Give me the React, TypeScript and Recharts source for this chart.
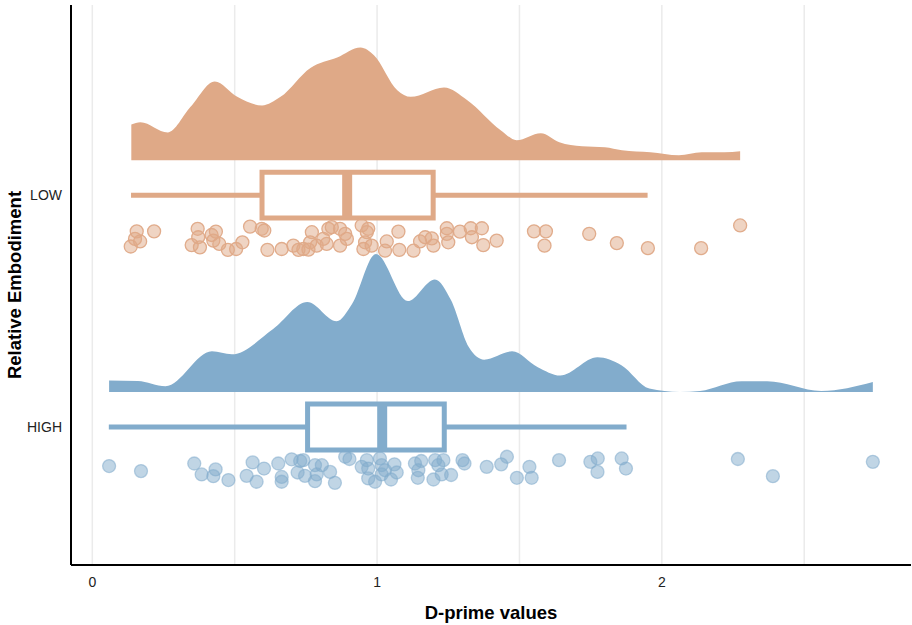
import { ComposedChart, CartesianGrid, XAxis, YAxis, Area, Scatter, ReferenceLine, ReferenceArea, Label } from 'recharts'

// group order on the y axis (bottom to top)
const categories = ['HIGH', 'LOW']

// individual d-prime scores and their vertical jitter (0..1 inside the rain band)
const lowScores = [
  0.135, 0.15, 0.156, 0.168, 0.217, 0.349, 0.37, 0.372, 0.378, 0.419, 0.434, 0.425, 0.446, 0.476, 0.505, 0.527,
  0.554, 0.595, 0.604, 0.615, 0.665, 0.706, 0.724, 0.741, 0.759, 0.771, 0.765, 0.788, 0.811, 0.829, 0.841, 0.823,
  0.87, 0.888, 0.87, 0.894, 0.946, 0.969, 0.964, 0.958, 0.952, 0.981, 1.034, 1.028, 1.075, 1.078, 1.128, 1.151,
  1.169, 1.192, 1.198, 1.245, 1.245, 1.25, 1.291, 1.329, 1.333, 1.368, 1.373, 1.42, 1.551, 1.593, 1.588, 1.745,
  1.842, 1.951, 2.138, 2.275
]
const lowJitter = [
  0.83, 0.56, 0.29, 0.65, 0.29, 0.78, 0.2, 0.5, 0.86, 0.42, 0.3, 0.62, 0.74, 0.95, 0.92, 0.68,
  0.12, 0.2, 0.26, 0.95, 0.92, 0.8, 0.95, 0.92, 0.94, 0.32, 0.68, 0.8, 0.56, 0.2, 0.14, 0.74,
  0.2, 0.38, 0.8, 0.56, 0.08, 0.2, 0.32, 0.68, 0.92, 0.8, 0.65, 0.98, 0.3, 0.95, 0.98, 0.65,
  0.5, 0.54, 0.8, 0.18, 0.38, 0.68, 0.3, 0.18, 0.5, 0.18, 0.78, 0.62, 0.29, 0.29, 0.8, 0.38,
  0.71, 0.89, 0.89, 0.08
]
const highScores = [
  0.059, 0.171, 0.358, 0.384, 0.433, 0.425, 0.478, 0.563, 0.542, 0.603, 0.577, 0.653, 0.665, 0.665, 0.7, 0.73,
  0.741, 0.721, 0.747, 0.782, 0.788, 0.782, 0.806, 0.835, 0.852, 0.888, 0.903, 0.946, 0.964, 0.969, 0.969, 0.993,
  1.01, 1.016, 1.028, 1.016, 1.049, 1.061, 1.069, 1.133, 1.155, 1.145, 1.143, 1.198, 1.204, 1.233, 1.215, 1.227,
  1.26, 1.3, 1.307, 1.385, 1.436, 1.456, 1.491, 1.535, 1.543, 1.639, 1.749, 1.775, 1.774, 1.859, 1.874, 2.267,
  2.39, 2.741
]
const highJitter = [
  0.39, 0.57, 0.3, 0.69, 0.51, 0.75, 0.89, 0.26, 0.74, 0.48, 0.95, 0.3, 0.78, 0.95, 0.15, 0.21,
  0.18, 0.62, 0.74, 0.36, 0.69, 0.93, 0.36, 0.6, 0.99, 0.06, 0.14, 0.42, 0.18, 0.48, 0.83, 0.95,
  0.12, 0.36, 0.54, 0.69, 0.87, 0.33, 0.62, 0.3, 0.21, 0.54, 0.81, 0.87, 0.18, 0.18, 0.36, 0.69,
  0.71, 0.18, 0.3, 0.42, 0.33, 0.06, 0.81, 0.42, 0.81, 0.18, 0.24, 0.12, 0.6, 0.12, 0.48, 0.14,
  0.75, 0.24
]

// kernel density estimates (half-violin clouds)
const lowDensityX = [
  0.137, 0.169, 0.265, 0.345, 0.43, 0.509, 0.596, 0.661, 0.766, 0.86, 0.942, 0.989, 1.071, 1.118, 1.235, 1.317,
  1.434, 1.49, 1.575, 1.64, 1.72, 1.8, 1.86, 1.96, 2.06, 2.14, 2.22, 2.275
]
const lowDensity = [
  0.357, 0.38, 0.277, 0.533, 0.787, 0.633, 0.547, 0.633, 0.923, 1.027, 1.127, 1.05, 0.7, 0.633, 0.727, 0.6,
  0.3, 0.2, 0.27, 0.18, 0.14, 0.13, 0.1, 0.08, 0.05, 0.08, 0.08, 0.09
]
const highDensityX = [
  0.059, 0.16, 0.257, 0.42, 0.49, 0.635, 0.755, 0.858, 0.912, 0.996, 1.108, 1.203, 1.26, 1.322, 1.376, 1.474,
  1.563, 1.643, 1.774, 1.858, 1.956, 2.063, 2.134, 2.28, 2.37, 2.56, 2.741
]
const highDensity = [
  0.114, 0.11, 0.057, 0.407, 0.377, 0.63, 0.9, 0.707, 0.88, 1.38, 0.91, 1.127, 0.917, 0.45, 0.324, 0.407,
  0.25, 0.164, 0.347, 0.267, 0.034, 0, 0.01, 0.107, 0.107, 0.01, 0.1
]

// box plot summaries: [min, q1, median, q3, max]
const lowBox = [0.136, 0.596, 0.895, 1.197, 1.95]
const highBox = [0.058, 0.756, 1.018, 1.236, 1.876]

const xTicks = [0, 1, 2]
const gridValues = [0, 0.5, 1, 1.5, 2, 2.5]

const LOW_COLOR = '#DFA987'
const HIGH_COLOR = '#82ACCC'

// layout of each group around its category position (y units)
const CLOUD_GAP = 0.151
const CLOUD_SCALE = 0.431
const BOX_HALF = 0.099
const RAIN_TOP = 0.121
const RAIN_SPAN = 0.121

const posOf = (name: string) => categories.indexOf(name) + 1

const cloud = (xs: number[], ds: number[], pos: number) =>
  xs.map((x, i) => ({ x, band: [pos + CLOUD_GAP, pos + CLOUD_GAP + ds[i] * CLOUD_SCALE] }))

const rain = (scores: number[], jitter: number[], pos: number) =>
  scores.map((x, i) => ({ x, y: pos - (RAIN_TOP + jitter[i] * RAIN_SPAN) }))

const groups = [
  { name: 'LOW', color: LOW_COLOR, box: lowBox, cloud: cloud(lowDensityX, lowDensity, posOf('LOW')), rain: rain(lowScores, lowJitter, posOf('LOW')) },
  { name: 'HIGH', color: HIGH_COLOR, box: highBox, cloud: cloud(highDensityX, highDensity, posOf('HIGH')), rain: rain(highScores, highJitter, posOf('HIGH')) }
]

const font = '"Liberation Sans", Arial, sans-serif'

export default function App() {
  return (
    <div style={{ position: 'absolute', left: 0, top: 0, background: '#fff', fontFamily: font }}>
      <ComposedChart width={912} height={625} margin={{ top: 5, right: 1, bottom: 0, left: 0 }}>
        {/* vertical grid every half unit, behind the clouds */}
        <CartesianGrid horizontal={false} stroke="#EBEBEB" strokeWidth={1.5} verticalValues={gridValues} />
        <XAxis
          type="number"
          dataKey="x"
          domain={[-0.0748, 2.875]}
          ticks={xTicks}
          allowDataOverflow
          tickLine={false}
          tickSize={6}
          tickMargin={6}
          height={60}
          axisLine={{ stroke: '#000', strokeWidth: 2 }}
          tick={{ fill: '#222', fontSize: 14, fontFamily: font }}
        >
          <Label
            value="D-prime values"
            position="insideBottom"
            offset={6}
            style={{ fontFamily: font, fontSize: 18.5, fontWeight: 'bold', fill: '#000' }}
          />
        </XAxis>
        <YAxis
          type="number"
          dataKey="y"
          domain={[0.405, 2.82]}
          ticks={[1, 2]}
          allowDataOverflow
          width={71}
          tickLine={false}
          tickSize={6}
          tickMargin={3}
          tickFormatter={(v: number) => categories[v - 1]}
          axisLine={{ stroke: '#000', strokeWidth: 2 }}
          tick={{ fill: '#222', fontSize: 14, fontFamily: font }}
        >
          <Label
            value="Relative Embodiment"
            angle={-90}
            position="insideLeft"
            offset={14}
            textAnchor="middle"
            style={{ fontFamily: font, fontSize: 18.5, fontWeight: 'bold', fill: '#000', textAnchor: 'middle' }}
          />
        </YAxis>

        {groups.map(g => (
          <Area
            key={'cloud-' + g.name}
            data={g.cloud}
            dataKey="band"
            type="monotone"
            stroke="none"
            fill={g.color}
            fillOpacity={1}
            isAnimationActive={false}
          />
        ))}

        {groups.map(g => {
          const pos = posOf(g.name)
          const [min, q1, med, q3, max] = g.box
          return [
            <ReferenceLine key={'wl' + g.name} segment={[{ x: min, y: pos }, { x: q1, y: pos }]} stroke={g.color} strokeWidth={5} />,
            <ReferenceLine key={'wr' + g.name} segment={[{ x: q3, y: pos }, { x: max, y: pos }]} stroke={g.color} strokeWidth={5} />,
            <ReferenceArea key={'bx' + g.name} x1={q1} x2={q3} y1={pos - BOX_HALF} y2={pos + BOX_HALF} fill="#fff" fillOpacity={1} stroke={g.color} strokeWidth={5} />,
            <ReferenceLine key={'md' + g.name} segment={[{ x: med, y: pos - BOX_HALF }, { x: med, y: pos + BOX_HALF }]} stroke={g.color} strokeWidth={10} />
          ]
        })}

        {groups.map(g => (
          <Scatter
            key={'rain-' + g.name}
            data={g.rain}
            isAnimationActive={false}
            shape={(p: any) => (
              <circle
                cx={p.cx}
                cy={p.cy}
                r={6.5}
                fill={g.color}
                fillOpacity={0.5}
                stroke={g.color}
                strokeOpacity={g.name === 'LOW' ? 0.95 : 0.55}
                strokeWidth={1.3}
              />
            )}
          />
        ))}
      </ComposedChart>
    </div>
  )
}
